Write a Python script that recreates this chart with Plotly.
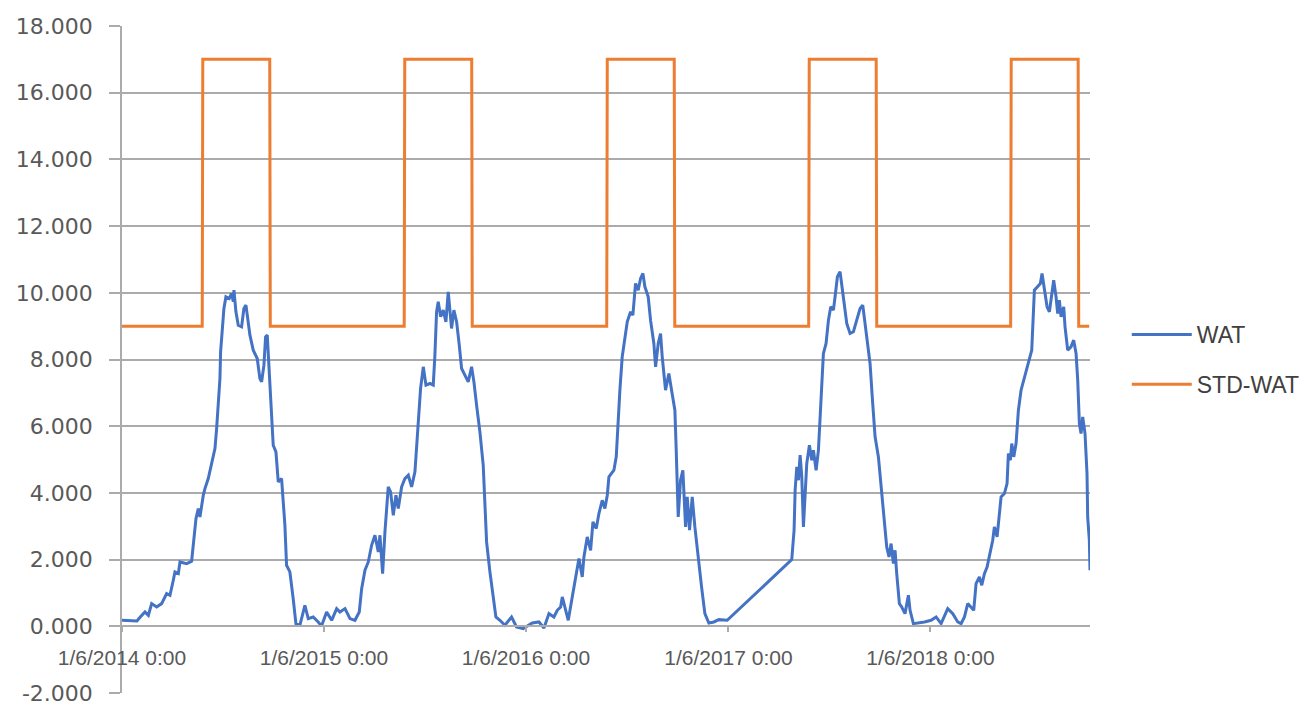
import pandas as pd
import plotly.graph_objects as go

# ---- data (day offset from 1/6/2014, value) ----
START = "2014-01-06"

wat_2014 = [(0, 0.18), (27, 0.16), (33, 0.28), (41.5, 0.43), (47.6, 0.33), (53.6, 0.68), (62.6, 0.58),
            (71.6, 0.68), (80.7, 0.98), (86.7, 0.93), (92.7, 1.38), (95.7, 1.63), (101.8, 1.58), (104.8, 1.93),
            (116.8, 1.88), (125.8, 1.95), (130, 2.63), (133.7, 3.23), (137.9, 3.53), (140.9, 3.28), (146.9, 3.93),
            (149.9, 4.13), (155.9, 4.43), (162, 4.93), (168, 5.33), (171, 5.93), (174, 6.63), (177, 7.43),
            (178.2, 8.23), (181.8, 8.93), (184.2, 9.53), (187.8, 9.88), (193.9, 9.83), (198.1, 9.98),
            (201.1, 9.73), (202.3, 10.08), (205.9, 9.43), (210.1, 9.03), (216.1, 8.98), (220.3, 9.53),
            (224, 9.63), (226.4, 9.33), (231.2, 8.73), (237.2, 8.28), (244.4, 8.03), (249.2, 7.43),
            (252.3, 7.33), (256.5, 7.83), (259.5, 8.68), (262.5, 8.73), (266.1, 7.73), (270.3, 6.63),
            (273.3, 5.43), (278.2, 5.23), (282.4, 4.33), (288.4, 4.43), (291.4, 3.83), (294.4, 3.03),
            (297.4, 1.83), (303.4, 1.63), (309.4, 0.83), (314.3, 0.08), (321.5, 0.03), (326.3, 0.33),
            (330.5, 0.63), (336.6, 0.23), (345.6, 0.28), (354.6, 0.13), (360.6, 0.01)]

wat_2015 = [(369.8, 0.43), (378.9, 0.18), (387.9, 0.53), (393.9, 0.43), (403, 0.53), (412, 0.23), (421, 0.18),
            (428.8, 0.43), (433.1, 1.13), (439.1, 1.68), (445.1, 1.93), (451.1, 2.43), (457.1, 2.73),
            (463.2, 2.23), (466.2, 2.73), (471, 1.58), (475.2, 2.83), (481.2, 4.18), (485.4, 4.03),
            (490.3, 3.33), (495.1, 3.93), (499.3, 3.53), (505.3, 4.18), (511.3, 4.43), (517.4, 4.53),
            (523.4, 4.18), (529.4, 4.63), (533.6, 5.63), (537.2, 6.43), (539.6, 7.13), (544.5, 7.78),
            (549.3, 7.23), (556.5, 7.28), (562.5, 7.23), (565.5, 8.13), (568.5, 9.43), (571.5, 9.73),
            (575.8, 9.28), (580.6, 9.48), (585.4, 9.13), (589.6, 10.03), (592.6, 9.33), (595.6, 8.93),
            (599.8, 9.48), (604.7, 9.13), (609.5, 8.43), (613.7, 7.73), (619.7, 7.53), (625.7, 7.33),
            (631.8, 7.78), (636, 7.33), (640.8, 6.63), (646.8, 5.83), (652.8, 4.83), (655.8, 3.83),
            (658.9, 2.53), (664.9, 1.63), (670.9, 0.83), (675.7, 0.28), (683, 0.18), (692, 0.03),
            (704, 0.28), (713, -0.02), (725.1, -0.07)]

wat_2016 = [(741.5, 0.10), (753.5, 0.13), (762.6, -0.05), (771.6, 0.38), (780.6, 0.28), (786.6, 0.48),
            (792.7, 0.58), (795.7, 0.88), (801.7, 0.48), (806.5, 0.18), (813.7, 0.88), (821, 1.53),
            (825.8, 2.03), (831.8, 1.48), (834.8, 2.08), (840.8, 2.68), (846.9, 2.28), (851.1, 3.13),
            (857.1, 2.93), (861.9, 3.38), (867.9, 3.78), (872.7, 3.53), (877, 3.93), (880, 4.48), (889, 4.68),
            (893.2, 5.08), (896.8, 6.28), (899.8, 7.08), (904, 8.08), (908.9, 8.68), (913.1, 9.13),
            (919.1, 9.43), (923.3, 9.33), (928.1, 10.28), (932.9, 10.08), (937.2, 10.43), (941.4, 10.58),
            (945, 10.18), (951, 9.88), (955.2, 9.18), (961.2, 8.48), (964.3, 7.78), (969.1, 8.48),
            (973.3, 8.78), (976.3, 8.08), (982.3, 7.08), (988.3, 7.58), (993.2, 7.08), (999.2, 6.48),
            (1001.6, 5.28), (1005.2, 3.28), (1009.4, 4.38), (1013.6, 4.68), (1018.5, 2.98), (1021.5, 3.88),
            (1025.7, 2.88), (1030.5, 3.88), (1035.3, 2.98), (1041.3, 1.98), (1047.4, 1.18), (1053.4, 0.38),
            (1060.6, 0.10), (1069.6, 0.13), (1078.7, 0.20), (1093.7, 0.18)]

wat_2017 = [(1210.4, 2.0), (1214.6, 2.88), (1216.5, 4.08), (1219.5, 4.78), (1222.5, 4.38), (1225.5, 5.13),
            (1228.5, 4.48), (1231.5, 2.98), (1234.5, 3.88), (1237.5, 4.88), (1242.3, 5.43), (1246.6, 4.98),
            (1249.6, 5.28), (1254.4, 4.68), (1258.6, 5.28), (1261.6, 6.18), (1264.6, 7.08), (1267.6, 8.18),
            (1272.4, 8.48), (1276.7, 9.18), (1280.9, 9.58), (1285.7, 9.48), (1288.7, 9.88), (1292.9, 10.48),
            (1297.7, 10.63), (1300.7, 10.28), (1305, 9.68), (1309.8, 9.08), (1315.8, 8.78), (1321.8, 8.83),
            (1327.8, 9.18), (1333.9, 9.53), (1338.7, 9.63), (1342.9, 9.08), (1347.1, 8.58), (1351.9, 7.88),
            (1356.7, 6.68), (1361, 5.68), (1367, 5.08), (1373, 3.98), (1377.2, 3.28), (1382, 2.38),
            (1386.2, 2.08), (1389.9, 2.48), (1394.1, 1.88), (1397.1, 2.28), (1400.1, 1.58), (1404.9, 0.68),
            (1409.1, 0.58), (1415.1, 0.38), (1421.2, 0.93), (1424.2, 0.48), (1430.2, 0.08), (1439.2, 0.10)]

wat_2018 = [(1450.2, 0.13), (1462.2, 0.18), (1471.3, 0.28), (1480.3, 0.08), (1492.3, 0.53), (1501.4, 0.38),
            (1510.4, 0.13), (1516.4, 0.08), (1522.5, 0.28), (1528.5, 0.68), (1534.5, 0.58), (1539.3, 0.48),
            (1543.5, 1.28), (1549.5, 1.48), (1553.8, 1.23), (1558.6, 1.58), (1563.4, 1.78), (1567.6, 2.08),
            (1573.6, 2.58), (1576.6, 2.98), (1581.5, 2.68), (1583.9, 3.08), (1588.7, 3.88), (1594.7, 3.98),
            (1599.5, 4.28), (1601.9, 5.18), (1605.5, 4.98), (1608, 5.48), (1611.6, 5.08), (1615.8, 5.48),
            (1620, 6.48), (1624.8, 7.08), (1629.6, 7.38), (1633.8, 7.58), (1638.1, 7.88), (1644.1, 8.28),
            (1648.9, 10.08), (1654.9, 10.18), (1659.7, 10.28), (1662.7, 10.58), (1667, 10.13), (1671.8, 9.58),
            (1676, 9.43), (1680.2, 10.03), (1683.8, 10.38), (1688, 9.88), (1691, 9.38), (1694, 9.78),
            (1697.1, 9.28), (1701.9, 9.58), (1704.3, 8.98), (1709.1, 8.28), (1715.1, 8.38), (1719.9, 8.58),
            (1724.2, 8.18), (1727.2, 7.38), (1730.2, 6.08), (1733.2, 5.78), (1736.2, 6.28), (1740.4, 5.78),
            (1744, 4.58), (1745.2, 3.28), (1748.2, 2.58), (1749.4, 1.68)]

std_dates = ["2014-01-06", "2014-05-31", "2014-06-01", "2014-09-30", "2014-10-01",
             "2015-05-31", "2015-06-01", "2015-09-30", "2015-10-01",
             "2016-05-31", "2016-06-01", "2016-09-30", "2016-10-01",
             "2017-05-31", "2017-06-01", "2017-09-30", "2017-10-01",
             "2018-05-31", "2018-06-01", "2018-09-30", "2018-10-01", "2018-10-20"]
std_values = [9, 9, 17, 17, 9,
              9, 17, 17, 9,
              9, 17, 17, 9,
              9, 17, 17, 9,
              9, 17, 17, 9, 9]

tick_dates = ["2014-01-06", "2015-01-06", "2016-01-06", "2017-01-06", "2018-01-06"]
tick_labels = ["1/6/2014 0:00", "1/6/2015 0:00", "1/6/2016 0:00", "1/6/2017 0:00", "1/6/2018 0:00"]
y_ticks = [-2, 0, 2, 4, 6, 8, 10, 12, 14, 16, 18]

# ---- build ----
wat = wat_2014 + wat_2015 + wat_2016 + wat_2017 + wat_2018
wat_days = [p[0] for p in wat]
wat_vals = [p[1] for p in wat]
wat_x = pd.Timestamp(START) + pd.to_timedelta(wat_days, unit="D")

fig = go.Figure()
fig.add_trace(go.Scatter(x=wat_x, y=wat_vals, mode="lines", name="WAT",
                         line=dict(color="#4472C4", width=3), legendgroup="a"))
fig.add_trace(go.Scatter(x=pd.to_datetime(std_dates), y=std_values, mode="lines", name="STD-WAT",
                         line=dict(color="#ED7D31", width=3), legendgroup="b"))

grid = "#ABABAB"
fig.update_layout(
    width=1309, height=708,
    margin=dict(l=122, r=219, t=26, b=15, autoexpand=False),
    paper_bgcolor="white", plot_bgcolor="white",
    showlegend=True,
    legend=dict(x=1.038, y=0.5, xanchor="left", yanchor="middle",
                font=dict(family="Liberation Sans", size=23, color="#404040"),
                traceorder="grouped", tracegroupgap=17, itemwidth=60,
                bgcolor="rgba(0,0,0,0)"),
    xaxis=dict(type="date", range=[START, wat_x[-1]],
               tickmode="array", tickvals=tick_dates, ticktext=tick_labels,
               anchor="free", position=0.1, automargin=False,
               showgrid=False, zeroline=False,
               showline=True, linecolor=grid, linewidth=1.5,
               ticks="outside", ticklen=5, tickcolor=grid, tickwidth=1.5,
               ticklabelstandoff=8,
               tickfont=dict(family="Liberation Sans", size=21, color="#595959")),
    yaxis=dict(range=[-2, 18], tickmode="array", tickvals=y_ticks,
               ticktext=[f"{v:.3f}" for v in y_ticks], automargin=False,
               showgrid=True, gridcolor=grid, gridwidth=1.5,
               zeroline=False,
               showline=True, linecolor=grid, linewidth=1.5,
               ticks="outside", ticklen=11, tickcolor=grid, tickwidth=1.5,
               ticklabelstandoff=12,
               tickfont=dict(family="DejaVu Sans", size=22, color="#595959")),
)

fig.write_html("out.html", config={"displayModeBar": False},
               post_script="document.body.style.margin='0';document.body.style.overflow='hidden';")
